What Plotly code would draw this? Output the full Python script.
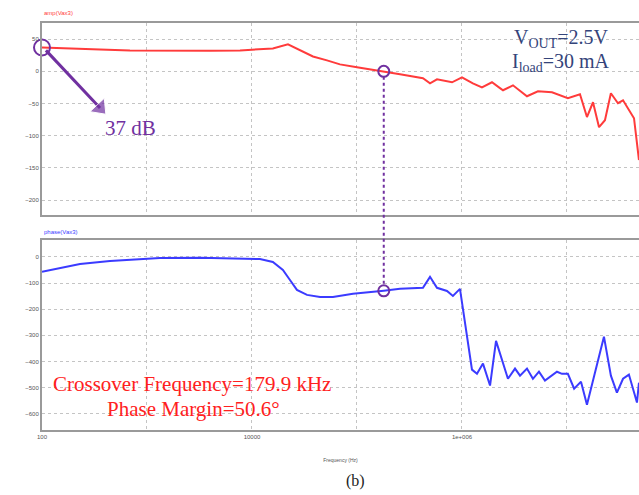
import plotly.graph_objects as go

# Loop-gain magnitude (dB) versus frequency (Hz)
amp_freq = [100, 185, 357, 688, 1656, 3981, 7690, 11900, 15800, 22000, 28600,
            38100, 51800, 68900, 100000, 179900, 257000, 425000, 496000, 578000,
            804000, 1000000, 1270000, 1550000, 1930000, 2300000, 2460000,
            3060000, 4160000, 5290000, 7200000, 10200000, 13300000, 15500000,
            17700000, 20200000, 23000000, 26200000, 30600000, 34200000,
            43500000, 48500000]
amp_db = [37, 36, 34, 32.5, 32, 32, 32.5, 34, 35.6, 41.8, 32.5,
          23, 17, 10.8, 6.2, 0, -4.6, -10.8, -18.6, -12.4,
          -17, -9.3, -18.6, -24.8, -17, -26, -29.4,
          -21.7, -38.7, -31, -32.5, -41.8, -35.6, -71,
          -48, -86.7, -75.9, -34, -49.5, -45,
          -72.8, -137.8]

# Loop-gain phase (degrees) versus frequency (Hz)
ph_freq = [100, 230, 444, 857, 1330, 3200, 11900, 15800, 19700, 23000, 26800,
           33400, 44500, 59000, 91600, 179900, 257000, 425000, 496000, 578000,
           720000, 820000, 957000, 1245000, 1390000, 1585000, 1850000,
           2110000, 2740000, 3200000, 3570000, 4160000, 4740000, 5410000,
           6170000, 8030000, 8960000, 10200000, 11700000, 13600000, 15500000,
           22500000, 26200000, 29900000, 34200000, 38900000, 46400000, 48500000]
ph_deg = [-57, -27, -15, -8, -4, -3, -8, -19, -50, -88, -126,
          -145, -153, -153, -141, -129.4, -122, -118, -76, -118,
          -130, -149, -122, -431, -447, -408, -492,
          -321, -466, -427, -454, -427, -466, -439,
          -473, -439, -447, -447, -504, -477, -565,
          -305, -454, -519, -466, -450, -557, -481]

# Crossover point
fc = 179900
pm = 50.6
dc_gain = 37

amp_ticks = [50, 0, -50, -100, -150, -200]
ph_ticks = [0, -100, -200, -300, -400, -500, -600]
freq_major = [100, 10000, 1000000]
freq_major_text = ["100", "10000", "1e+006"]
freq_minor = [1000, 100000, 10000000]

# callout arrow for the DC gain (tail near the marker, head toward the label)
arrow_freq = [109, 357]
arrow_db = [32.5, -57]

amp_range = [-223, 75]
ph_range = [-662, 65]
amp_dom = [0.5657, 0.9535]
ph_dom = [0.1313, 0.5152]
x_range = [2, 7.686]

PURPLE = "#7030a0"
RED = "#ff3b3b"
BLUE = "#3b3bff"
FRAME = "#9a9a9a"
GRID = "#c4c4c4"
SERIF = "Liberation Serif, Times New Roman, serif"
TINY = dict(family="Liberation Sans, Arial", size=6, color="#555555")


def to_paper(v, rng, dom):
    return dom[0] + (v - rng[0]) / (rng[1] - rng[0]) * (dom[1] - dom[0])


fig = go.Figure()

fig.add_trace(go.Scatter(x=amp_freq, y=amp_db, mode="lines",
                         line=dict(color=RED, width=2), xaxis="x", yaxis="y",
                         showlegend=False))
fig.add_trace(go.Scatter(x=ph_freq, y=ph_deg, mode="lines",
                         line=dict(color=BLUE, width=2), xaxis="x2", yaxis="y2",
                         showlegend=False))

# arrow: a thick line with a triangle head oriented along the segment
fig.add_trace(go.Scatter(x=arrow_freq, y=arrow_db, mode="lines+markers",
                         line=dict(color=PURPLE, width=3),
                         marker=dict(symbol="triangle-up", size=[0, 17],
                                     color=PURPLE, angleref="previous"),
                         xaxis="x", yaxis="y", showlegend=False,
                         hoverinfo="skip"))

# DC gain circle and crossover circles
fig.add_trace(go.Scatter(x=[amp_freq[0]], y=[dc_gain], mode="markers",
                         marker=dict(symbol="circle-open", size=16,
                                     color=PURPLE, line=dict(width=2)),
                         xaxis="x", yaxis="y", showlegend=False,
                         cliponaxis=False))
fig.add_trace(go.Scatter(x=[fc], y=[0], mode="markers",
                         marker=dict(symbol="circle-open", size=11,
                                     color=PURPLE, line=dict(width=2)),
                         xaxis="x", yaxis="y", showlegend=False))
fig.add_trace(go.Scatter(x=[fc], y=[pm - 180], mode="markers",
                         marker=dict(symbol="circle-open", size=11,
                                     color=PURPLE, line=dict(width=2)),
                         xaxis="x2", yaxis="y2", showlegend=False))

# dotted link between the two crossover markers
y_top = to_paper(0, amp_range, amp_dom) - 0.011
y_bot = to_paper(pm - 180, ph_range, ph_dom) + 0.011
fig.add_shape(type="line", xref="x", yref="paper", x0=fc, x1=fc,
              y0=y_top, y1=y_bot,
              line=dict(color=PURPLE, width=2, dash="dot"))

axis_common = dict(type="log", range=x_range, tickvals=freq_major,
                   showgrid=True, gridcolor=GRID, griddash="dot", gridwidth=1,
                   minor=dict(tickvals=freq_minor, showgrid=True,
                              gridcolor=GRID, griddash="dot", gridwidth=1,
                              ticks=""),
                   showline=True, linecolor=FRAME, linewidth=2, mirror=True,
                   ticks="", zeroline=False, tickfont=TINY)

fig.update_layout(
    width=639, height=495,
    margin=dict(l=42, r=0, t=0, b=0),
    paper_bgcolor="white", plot_bgcolor="white",
    xaxis=dict(axis_common, anchor="y", showticklabels=False),
    xaxis2=dict(axis_common, anchor="y2", ticktext=freq_major_text,
                showticklabels=True, matches="x",
                title=dict(text="Frequency (Hz)", standoff=19,
                           font=dict(family="Liberation Sans, Arial", size=5,
                                     color="#555555"))),
    yaxis=dict(domain=amp_dom, range=amp_range, tickvals=amp_ticks,
               showgrid=True, gridcolor=GRID, griddash="dot",
               showline=True, linecolor=FRAME, linewidth=2, ticks="",
               zeroline=False, tickfont=TINY, anchor="x"),
    yaxis2=dict(domain=ph_dom, range=ph_range, tickvals=ph_ticks,
                showgrid=True, gridcolor=GRID, griddash="dot",
                showline=True, linecolor=FRAME, linewidth=2, ticks="",
                zeroline=False, tickfont=TINY, anchor="x2"),
)


def px_x(px):
    # horizontal pixel position -> paper fraction of the plot area
    return (px - 42) / 597


def px_y(py):
    return 1 - py / 495


ann = [
    dict(text="amp(Vax3)", x=0, y=px_y(13), xanchor="left",
         font=dict(family="Liberation Sans, Arial", size=6, color=RED)),
    dict(text="phase(Vax3)", x=0, y=px_y(232), xanchor="left",
         font=dict(family="Liberation Sans, Arial", size=6, color=BLUE)),
    dict(text="(b)", x=px_x(355), y=px_y(481), xanchor="center",
         font=dict(family=SERIF, size=16, color="#222222")),
    dict(text=f"{dc_gain} dB", x=px_x(130), y=px_y(128), xanchor="center",
         font=dict(family=SERIF, size=21, color=PURPLE)),
    dict(text="V<sub>OUT</sub>=2.5V", x=px_x(561), y=px_y(38),
         xanchor="center", font=dict(family=SERIF, size=20, color="#34447a")),
    dict(text="I<sub>load</sub>=30 mA", x=px_x(561), y=px_y(63),
         xanchor="center", font=dict(family=SERIF, size=20, color="#34447a")),
    dict(text=f"Crossover Frequency={fc / 1000:.1f} kHz", x=px_x(192),
         y=px_y(384), xanchor="center",
         font=dict(family=SERIF, size=21, color="#ff2020")),
    dict(text=f"Phase Margin={pm}°", x=px_x(193), y=px_y(409),
         xanchor="center", font=dict(family=SERIF, size=21, color="#ff2020")),
]
for a in ann:
    a.update(xref="paper", yref="paper", yanchor="middle", showarrow=False)
fig.update_layout(annotations=ann)

fig.write_html("out.html")
